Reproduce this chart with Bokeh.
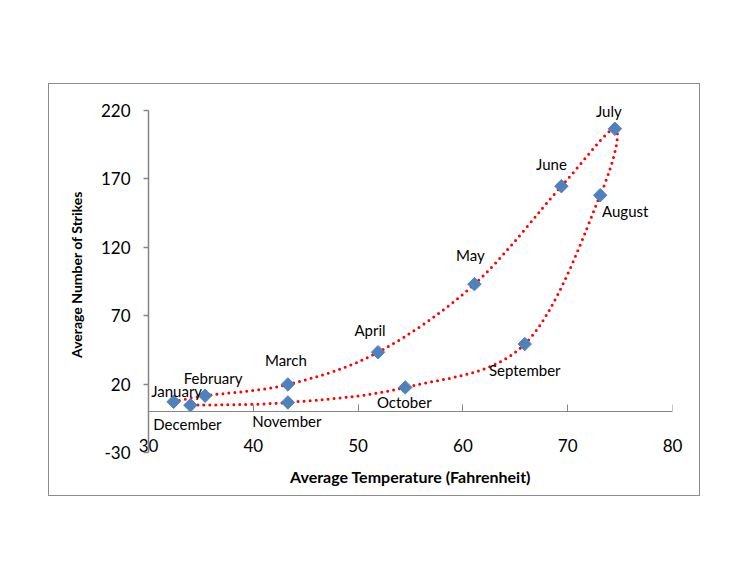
import math
from bokeh.plotting import figure
from bokeh.models import (LinearAxis, FixedTicker, ColumnDataSource, Range1d,
                          LabelSet, PrintfTickFormatter)
from bokeh.core.properties import value
from bokeh.embed import file_html
from bokeh.resources import INLINE

months = ["January", "February", "March", "April", "May", "June", "July",
          "August", "September", "October", "November", "December"]
temps = [32.4, 35.4, 43.3, 51.9, 61.1, 69.4, 74.5, 73.1, 65.9, 54.5, 43.3, 34.0]
strikes = [7.1, 11.5, 19.8, 43.3, 93.1, 164.7, 206.7, 158.1, 49.3, 17.6, 6.6, 4.6]
x_ticks = [30, 40, 50, 60, 70, 80]
y_ticks = [-30, 20, 70, 120, 170, 220]

# label placement offsets (screen pixels, +x right, +y up) -- styling, not data
label_dx = [3, 8, -2, -8, -4, -10, -6, 25, 0, -1, -1, -3]
label_dy = [11, 18, 24, 22, 29, 22, 18, -16, -26, -15, -19, -19]

FONT = "Lato"
AXIS_GRAY = "#868686"
X_MIN, X_MAX = x_ticks[0], x_ticks[-1]
Y_MIN, Y_MAX = y_ticks[0], y_ticks[-1]

p = figure(width=652, height=413,
           x_range=Range1d(X_MIN, X_MAX),
           y_range=Range1d(Y_MIN, Y_MAX + 10.3),
           output_backend="svg", toolbar_location=None,
           min_border_left=99, min_border_right=29,
           min_border_top=12, min_border_bottom=45,
           background_fill_color="white", border_fill_color="white",
           outline_line_color=None,
           margin=(83, 0, 0, 48),
           styles={"border": "1px solid #8c8c8c"})
p.grid.visible = False

# x axis: labels + title only (placed at bottom of plot area)
xa = p.xaxis[0]
xa.ticker = FixedTicker(ticks=x_ticks)
xa.axis_line_color = None
xa.major_tick_line_color = None
xa.minor_tick_line_color = None
xa.major_label_standoff = -20
xa.major_label_text_font = FONT
xa.major_label_text_font_size = "17px"
xa.major_label_text_color = "black"
xa.axis_label = "Average Temperature (Fahrenheit)"
xa.axis_label_text_font = FONT
xa.axis_label_text_font_style = "bold"
xa.axis_label_text_font_size = "16px"
xa.axis_label_text_color = "black"
xa.axis_label_standoff = 12

# y axis
ya = p.yaxis[0]
ya.ticker = FixedTicker(ticks=y_ticks)
ya.bounds = (Y_MIN, Y_MAX)
ya.formatter = PrintfTickFormatter(format="%d")
ya.axis_line_color = AXIS_GRAY
ya.axis_line_width = 1.5
ya.major_tick_line_color = AXIS_GRAY
ya.major_tick_line_width = 1.5
ya.major_tick_out = 5
ya.major_tick_in = 0
ya.minor_tick_line_color = None
ya.major_label_standoff = 13
ya.major_label_text_font = FONT
ya.major_label_text_font_size = "17px"
ya.major_label_text_color = "black"
ya.axis_label = "Average Number of Strikes"
ya.axis_label_text_font = FONT
ya.axis_label_text_font_style = "bold"
ya.axis_label_text_font_size = "14px"
ya.axis_label_text_color = "black"
ya.axis_label_standoff = 13

# horizontal axis line crossing at y = 0
zero_axis = LinearAxis(fixed_location=0, ticker=FixedTicker(ticks=x_ticks),
                       axis_line_color=AXIS_GRAY, major_tick_line_color=AXIS_GRAY,
                       major_tick_in=7, major_tick_out=0,
                       minor_tick_line_color=None,
                       major_label_text_font_size="1px",
                       major_label_text_color="white")
p.add_layout(zero_axis, "below")

# smoothed line (Catmull-Rom style bezier segments between consecutive months)
n = len(temps)
bx0, by0, bx1, by1, c0x, c0y, c1x, c1y = [], [], [], [], [], [], [], []
for i in range(n - 1):
    pi_x, pi_y = temps[i], strikes[i]
    pj_x, pj_y = temps[i + 1], strikes[i + 1]
    pv_x, pv_y = (temps[i - 1], strikes[i - 1]) if i > 0 else (pi_x, pi_y)
    pn_x, pn_y = (temps[i + 2], strikes[i + 2]) if i + 2 < n else (pj_x, pj_y)
    bx0.append(pi_x); by0.append(pi_y)
    bx1.append(pj_x); by1.append(pj_y)
    c0x.append(pi_x + (pj_x - pv_x) / 6.0); c0y.append(pi_y + (pj_y - pv_y) / 6.0)
    c1x.append(pj_x - (pn_x - pi_x) / 6.0); c1y.append(pj_y - (pn_y - pi_y) / 6.0)

p.bezier(x0=bx0, y0=by0, x1=bx1, y1=by1, cx0=c0x, cy0=c0y, cx1=c1x, cy1=c1y,
         line_color="#FF0000", line_width=3, line_dash="0 6", line_cap="round")

src = ColumnDataSource(dict(x=temps, y=strikes, t=months, dx=label_dx, dy=label_dy))
p.scatter(x="x", y="y", source=src, marker="square", size=9.5, angle=math.pi / 4,
          fill_color="#4F81BD", line_color="#4F81BD")
labels = LabelSet(x="x", y="y", text="t", source=src, x_offset="dx", y_offset="dy",
                  text_align="center", text_baseline="middle",
                  text_font=value(FONT), text_font_size="15px", text_color="black")
p.add_layout(labels)

open("out.html", "w").write(file_html(p, INLINE))
